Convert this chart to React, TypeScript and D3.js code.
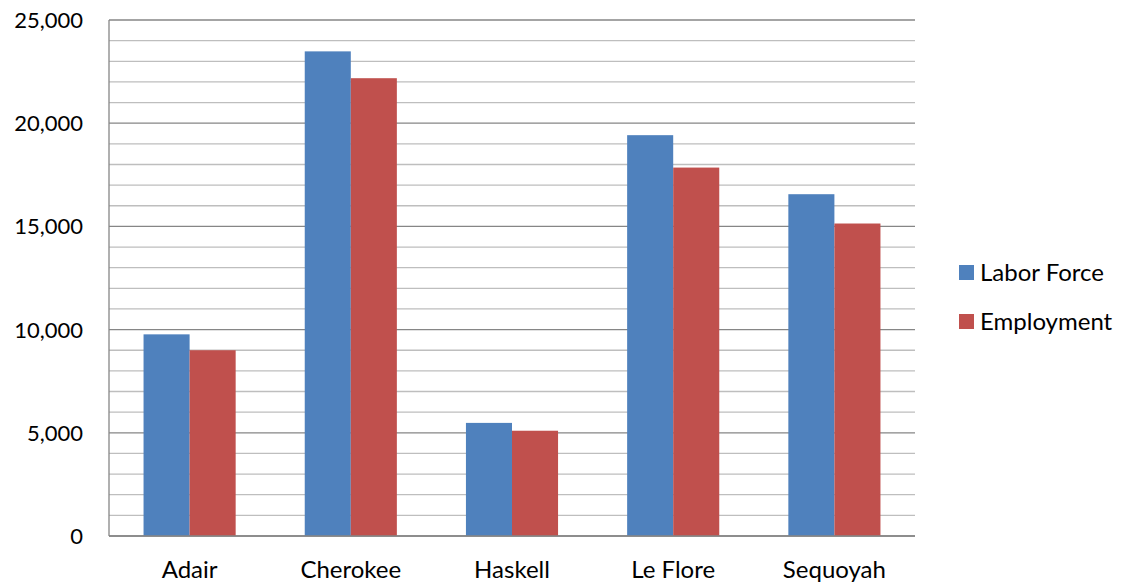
import * as d3 from 'd3';

const categories = ['Adair', 'Cherokee', 'Haskell', 'Le Flore', 'Sequoyah'];
const seriesNames = ['Labor Force', 'Employment'];
const laborForce = [9770, 23480, 5480, 19420, 16560];
const employment = [9000, 22180, 5100, 17850, 15140];
const seriesColors = ['#4F81BD', '#C0504D'];
const majorTicks = [0, 5000, 10000, 15000, 20000, 25000];

const W = 1121;
const H = 584;
const margin = { top: 20, right: 206, bottom: 48, left: 109 };
const font = 'Lato, "Open Sans", sans-serif';

export default function App() {
  const innerW = W - margin.left - margin.right;
  const innerH = H - margin.top - margin.bottom;

  const y = d3.scaleLinear().domain([0, 25000]).range([innerH, 0]);
  const x0 = d3.scaleBand<string>().domain(categories).range([0, innerW]).padding(0);
  const bw = x0.bandwidth();
  // Excel-style gap width 150%
  const gap = (bw * 0.75) / 3.5;
  const x1 = d3.scaleBand<string>().domain(seriesNames).range([gap, bw - gap]).padding(0);

  const minorTicks = d3.range(1000, 25001, 1000).filter(v => v % 5000 !== 0);
  const values = [laborForce, employment];

  return (
    <svg width={W} height={H} style={{ position: 'absolute', left: 0, top: 0, background: '#fff' }} fontFamily={font}>
      <g transform={`translate(${margin.left},${margin.top})`}>
        {/* minor gridlines */}
        {minorTicks.map(t => (
          <line key={'m' + t} x1={0} x2={innerW} y1={y(t)} y2={y(t)} stroke="#BEBEBE" strokeWidth={1.3} />
        ))}
        {/* major gridlines */}
        {majorTicks.map(t => (
          <line key={'M' + t} x1={0} x2={innerW} y1={y(t)} y2={y(t)} stroke="#868686" strokeWidth={1.3} />
        ))}
        {/* bars */}
        {categories.map((c, i) => (
          <g key={c} transform={`translate(${x0(c)},0)`}>
            {seriesNames.map((s, j) => (
              <rect
                key={s}
                x={x1(s)}
                y={y(values[j][i])}
                width={x1.bandwidth()}
                height={innerH - y(values[j][i])}
                fill={seriesColors[j]}
              />
            ))}
          </g>
        ))}
        {/* axes lines */}
        <line x1={0} x2={0} y1={0} y2={innerH} stroke="#868686" strokeWidth={1.3} />
        <line x1={0} x2={innerW} y1={innerH} y2={innerH} stroke="#868686" strokeWidth={1.3} />
        {/* y labels */}
        {majorTicks.map(t => (
          <text key={'yl' + t} x={-26} y={y(t)} dy="0.36em" textAnchor="end" fontSize={22} fill="#000">
            {d3.format(',')(t)}
          </text>
        ))}
        {/* x labels */}
        {categories.map(c => (
          <text key={'xl' + c} x={(x0(c) ?? 0) + bw / 2} y={innerH + 42} textAnchor="middle" fontSize={24} fill="#000">
            {c}
          </text>
        ))}
      </g>
      {/* legend */}
      {seriesNames.map((s, j) => (
        <g key={'lg' + s} transform={`translate(959,${265 + j * 49})`}>
          <rect x={0} y={0} width={15} height={15} fill={seriesColors[j]} />
          <text x={21} y={16} fontSize={24} fill="#000">{s}</text>
        </g>
      ))}
    </svg>
  );
}
